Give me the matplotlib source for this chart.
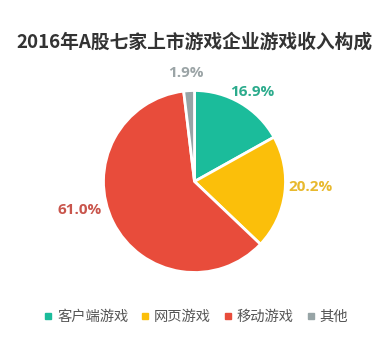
import matplotlib
matplotlib.use("Agg")
import matplotlib.pyplot as plt
from matplotlib.lines import Line2D

plt.rcParams['font.family'] = ['Noto Sans CJK SC', 'DejaVu Sans']

title = "2016年A股七家上市游戏企业游戏收入构成"
categories = ["客户端游戏", "网页游戏", "移动游戏", "其他"]
values = [16.9, 20.2, 61.0, 1.9]
labels = ["16.9%", "20.2%", "61.0%", "1.9%"]

colors = ["#1bbc9b", "#fbbf0a", "#e84c3b", "#97a4a6"]
label_colors = ["#2bab8c", "#e8b92e", "#c9554c", "#9ba4a6"]
# label anchor positions in pie-radius units, with alignment
label_pos = [(0.63, 0.98, 'center'), (1.03, -0.06, 'left'),
             (-1.02, -0.31, 'right'), (-0.10, 1.19, 'center')]

W, H = 389, 354
fig = plt.figure(figsize=(W / 100, H / 100), dpi=100)
cx, cy, r = 194.5, 181.5, 91
ax = fig.add_axes([(cx - r) / W, (H - cy - r) / H, 2 * r / W, 2 * r / H])
ax.pie(values, colors=colors, startangle=90, counterclock=False,
       wedgeprops=dict(edgecolor='white', linewidth=2), radius=1)
ax.set_xlim(-1, 1)
ax.set_ylim(-1, 1)
ax.set_aspect('equal')
ax.axis('off')

for lab, (x, y, ha), c in zip(labels, label_pos, label_colors):
    ax.text(x, y, lab, ha=ha, va='center', fontsize=11, fontweight='bold',
            color=c, family=['Open Sans', 'DejaVu Sans'], clip_on=False)

fig.text(0.5, 1 - 42 / H, title, ha='center', va='center', fontsize=13.5,
         fontweight='bold', color='#333333')

handles = [Line2D([0], [0], marker='s', linestyle='none', markersize=4,
                  markerfacecolor=c, markeredgecolor=c) for c in colors]
fig.legend(handles, categories, loc='center', bbox_to_anchor=(0.505, 1 - 317 / H),
           ncol=4, frameon=False, fontsize=10.3, handlelength=0.5,
           handletextpad=0.35, columnspacing=0.95, labelcolor='#555555')

fig.savefig("out.png", dpi=100, facecolor='white')
